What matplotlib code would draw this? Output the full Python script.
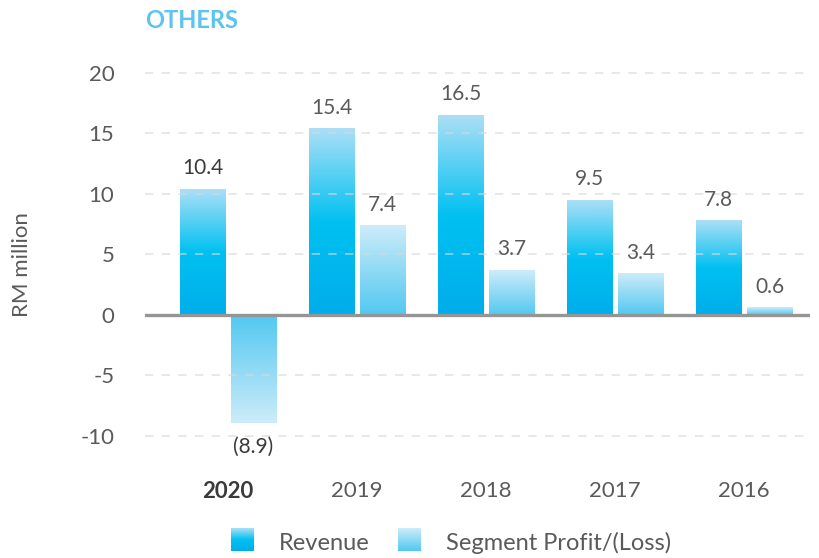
import numpy as np
import matplotlib
matplotlib.use("Agg")
import matplotlib.pyplot as plt
from matplotlib.colors import LinearSegmentedColormap

plt.rcParams['font.family'] = ['Lato', 'DejaVu Sans']

years = ['2020', '2019', '2018', '2017', '2016']
revenue = [10.4, 15.4, 16.5, 9.5, 7.8]
profit = [-8.9, 7.4, 3.7, 3.4, 0.6]
series_names = ['Revenue', 'Segment Profit/(Loss)']
yticks = [-10, -5, 0, 5, 10, 15, 20]

TEXT = '#5a5a5a'
DARK = '#3a3a3a'

rev_cmap = LinearSegmentedColormap.from_list(
    'rev', [(0.0, '#00adea'), (0.5, '#00c1f1'), (1.0, '#acdff6')])
prof_cmap = LinearSegmentedColormap.from_list(
    'prof', [(0.0, '#52c8f1'), (1.0, '#cdecf9')])

fig = plt.figure(figsize=(8.19, 5.58), dpi=100)
ax = fig.add_axes([145/819, (558-455)/558, (810-145)/819, (455-60)/558])

x = np.arange(len(years))
w = 0.349
off = 0.198
b1 = ax.bar(x - off, revenue, w, color='none', zorder=2)
b2 = ax.bar(x + off, profit, w, color='none', zorder=2)

grad = np.linspace(0, 1, 256).reshape(-1, 1)
for rect in b1:
    x0, y0 = rect.get_x(), rect.get_y()
    ax.imshow(grad, cmap=rev_cmap, origin='lower', aspect='auto',
              extent=(x0, x0 + rect.get_width(), y0, y0 + rect.get_height()), zorder=2)
for rect, v in zip(b2, profit):
    x0 = rect.get_x()
    ax.imshow(grad, cmap=prof_cmap, origin='lower', aspect='auto',
              extent=(x0, x0 + rect.get_width(), 0, v), zorder=2)

ax.set_xlim(-0.643, 4.51)
ax.set_ylim(-11.57, 21.07)

# grid lines (over bars)
for t in yticks:
    if t == 0:
        continue
    ax.axhline(t, color='#d8d8d8', lw=1.2, ls=(0, (5, 5)), alpha=0.7, zorder=3)
ax.axhline(0, color='#959595', lw=2.4, zorder=4)

def fmt(v):
    return f'({abs(v):.1f})' if v < 0 else f'{v:.1f}'

for i, (r, p) in enumerate(zip(revenue, profit)):
    col = DARK if i == 0 else TEXT
    ax.text(x[i] - off, r + 0.9, fmt(r), ha='center', va='bottom', fontsize=15, color=col)
    if p >= 0:
        ax.text(x[i] + off, p + 0.9, fmt(p), ha='center', va='bottom', fontsize=15, color=col)
    else:
        ax.text(x[i] + off, p - 1.2, fmt(p), ha='center', va='top', fontsize=15, color=col)

for s in ax.spines.values():
    s.set_visible(False)
ax.set_yticks(yticks)
ax.set_yticklabels([str(t) for t in yticks], fontsize=16, color=TEXT)
ax.tick_params(axis='y', length=0, pad=22)
ax.set_xticks(x)
ax.set_xticklabels(years, fontsize=16, color=TEXT)
ax.tick_params(axis='x', length=0, pad=19)
lbls = ax.get_xticklabels()
lbls[0].set_fontweight('bold')
lbls[0].set_color(DARK)
ax.set_facecolor('white')

fig.text(22/819, 1 - 265/558, 'RM million', rotation=90, ha='center', va='center',
         fontsize=16, color=TEXT)
fig.text(145/819, 1 - 20/558, 'OTHERS', ha='left', va='center', fontsize=17,
         fontweight='bold', color='#5bc4ef')

# legend
for (lx, name, cmap) in [(231, series_names[0], rev_cmap), (398, series_names[1], prof_cmap)]:
    lax = fig.add_axes([lx/819, 1 - 551/558, 23/819, 23/558])
    lax.imshow(grad, cmap=cmap, origin='lower', aspect='auto', extent=(0, 1, 0, 1))
    lax.axis('off')
    fig.text((lx + 48)/819, 1 - 543/558, name, ha='left', va='center', fontsize=17, color=TEXT)

fig.savefig('out.png', dpi=100, facecolor='white')
